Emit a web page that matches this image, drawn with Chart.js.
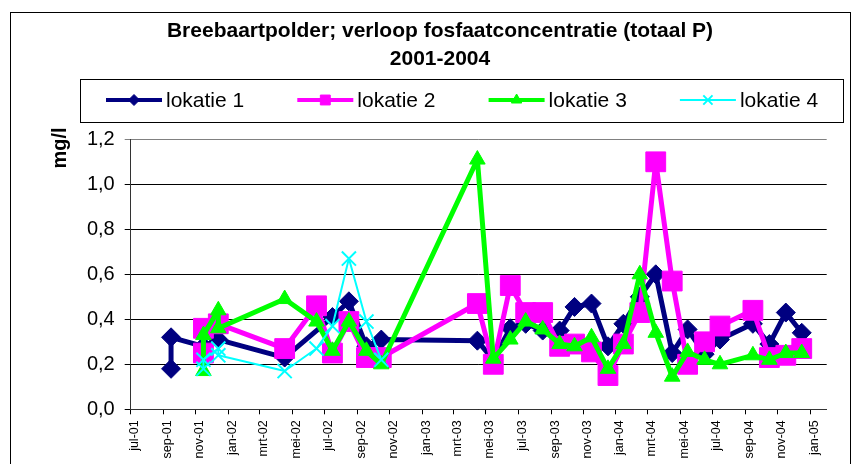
<!DOCTYPE html>
<html>
<head>
<meta charset="utf-8">
<script src="https://cdn.jsdelivr.net/npm/chart.js@4/dist/chart.umd.min.js"></script>
<style>
    html, body { margin: 0; padding: 0; background: #fff; }
    #wrap { width: 854px; height: 464px; }
</style>
</head>
<body>
<div id="wrap"><canvas id="fosfaatChart" width="854" height="464"></canvas></div>
<script>
const titleLines = ["Breebaartpolder; verloop fosfaatconcentratie (totaal P)", "2001-2004"];
const yTitle = "mg/l";

// date axis, one tick every two months
const tickDates = [
    "2001-07-01", "2001-09-01", "2001-11-01", "2002-01-01", "2002-03-01", "2002-05-01",
    "2002-07-01", "2002-09-01", "2002-11-01", "2003-01-01", "2003-03-01", "2003-05-01",
    "2003-07-01", "2003-09-01", "2003-11-01", "2004-01-01", "2004-03-01", "2004-05-01",
    "2004-07-01", "2004-09-01", "2004-11-01", "2005-01-01"
];
const tickLabels = [
    "jul-01", "sep-01", "nov-01", "jan-02", "mrt-02", "mei-02",
    "jul-02", "sep-02", "nov-02", "jan-03", "mrt-03", "mei-03",
    "jul-03", "sep-03", "nov-03", "jan-04", "mrt-04", "mei-04",
    "jul-04", "sep-04", "nov-04", "jan-05"
];
const axisStart = "2001-07-01";
const axisEnd = "2005-02-01";

const seriesNames = ["lokatie 1", "lokatie 2", "lokatie 3", "lokatie 4"];

//lokatie 1
const dates1 = [
    "2001-09-15", "2001-09-15", "2001-11-15", "2001-12-13", "2002-04-17", "2002-07-16",
    "2002-08-16", "2002-09-18", "2002-10-16", "2003-04-15", "2003-05-15", "2003-06-16",
    "2003-07-15", "2003-08-16", "2003-09-17", "2003-10-15", "2003-11-16", "2003-12-17",
    "2004-01-15", "2004-02-15", "2004-03-16", "2004-04-16", "2004-05-15", "2004-06-16",
    "2004-07-15", "2004-09-15", "2004-10-16", "2004-11-16", "2004-12-16"
];
const values1 = [
    0.18, 0.32, 0.28, 0.31, 0.23, 0.41,
    0.48, 0.28, 0.31, 0.305, 0.22, 0.36,
    0.38, 0.35, 0.35, 0.455, 0.47, 0.28,
    0.38, 0.50, 0.60, 0.25, 0.355, 0.245,
    0.31, 0.38, 0.29, 0.43, 0.34
];

//lokatie 2
const dates2 = [
    "2001-11-15", "2001-11-15", "2001-12-13", "2002-04-17", "2002-06-16", "2002-07-16",
    "2002-08-16", "2002-09-18", "2002-10-16", "2003-04-15", "2003-05-15", "2003-06-16",
    "2003-07-15", "2003-08-16", "2003-09-17", "2003-10-15", "2003-11-16", "2003-12-17",
    "2004-01-15", "2004-02-15", "2004-03-16", "2004-04-16", "2004-05-15", "2004-06-16",
    "2004-07-15", "2004-09-15", "2004-10-16", "2004-11-16", "2004-12-16"
];
const values2 = [
    0.25, 0.36, 0.38, 0.27, 0.46, 0.25,
    0.39, 0.23, 0.23, 0.47, 0.20, 0.55,
    0.43, 0.43, 0.28, 0.29, 0.255, 0.15,
    0.29, 0.43, 1.10, 0.57, 0.20, 0.30,
    0.37, 0.44, 0.23, 0.24, 0.27
];

//lokatie 3
const dates3 = [
    "2001-11-15", "2001-11-15", "2001-12-13", "2001-12-13", "2002-04-17", "2002-06-16",
    "2002-07-16", "2002-08-16", "2002-09-18", "2002-10-16", "2003-04-15", "2003-05-15",
    "2003-06-16", "2003-07-15", "2003-08-16", "2003-09-17", "2003-10-15", "2003-11-16",
    "2003-12-17", "2004-01-15", "2004-02-15", "2004-03-16", "2004-04-16", "2004-05-15",
    "2004-06-16", "2004-07-15", "2004-09-15", "2004-10-16", "2004-11-16", "2004-12-16"
];
const values3 = [
    0.17, 0.33, 0.44, 0.36, 0.49, 0.39,
    0.26, 0.39, 0.26, 0.20, 1.11, 0.225,
    0.31, 0.39, 0.355, 0.29, 0.28, 0.32,
    0.18, 0.29, 0.60, 0.34, 0.145, 0.255,
    0.22, 0.20, 0.24, 0.22, 0.25, 0.25
];

//lokatie 4
const dates4 = [
    "2001-11-15", "2001-11-15", "2001-12-13", "2001-12-13", "2002-04-17", "2002-06-16",
    "2002-07-16", "2002-08-16", "2002-09-18", "2002-10-16"
];
const values4 = [0.18, 0.22, 0.27, 0.24, 0.17, 0.27, 0.37, 0.67, 0.39, 0.22];

const FONT = "'Liberation Sans', Arial, sans-serif";

// days since start of the axis
function dayNr(s) {
    const p = s.split("-");
    const a = axisStart.split("-");
    return (Date.UTC(+p[0], +p[1] - 1, +p[2]) - Date.UTC(+a[0], +a[1] - 1, +a[2])) / 86400000;
}

function points(dates, values) {
    return dates.map((d, i) => ({ x: dayNr(d), y: values[i] }));
}

function series(i, dates, values, color, lineWidth, style, radius, pointBorder, order) {
    return {
        label: seriesNames[i],
        data: points(dates, values),
        borderColor: color,
        backgroundColor: color,
        borderWidth: lineWidth,
        borderJoinStyle: "round",
        borderCapStyle: "round",
        pointStyle: style,
        pointRadius: radius,
        pointBackgroundColor: color,
        pointBorderColor: color,
        pointBorderWidth: pointBorder,
        tension: 0,
        fill: false,
        order: order
    };
}

const legendRadius = [5.5, 7, 6, 6.5];

// white page, outer frame, title, legend box and y title
const chartDecor = {
    id: "chartDecor",
    beforeDraw(chart) {
        const c = chart.ctx;
        c.save();
        c.fillStyle = "#fff";
        c.fillRect(0, 0, chart.width, chart.height);
        c.strokeStyle = "#000";
        c.lineWidth = 1;
        c.strokeRect(10.5, 12.5, 840, 470);
        c.restore();
    },
    afterDraw(chart) {
        const c = chart.ctx;
        c.save();
        c.fillStyle = "#000";
        c.font = "bold 21px " + FONT;
        c.textAlign = "center";
        c.textBaseline = "middle";
        c.fillText(titleLines[0], 440, 31);
        c.fillText(titleLines[1], 440, 59);

        c.strokeStyle = "#000";
        c.lineWidth = 1;
        c.strokeRect(80.5, 79.5, 763, 43);

        c.font = "21px " + FONT;
        c.textAlign = "left";
        chart.data.datasets.forEach((ds, i) => {
            const x0 = 106 + i * 191.3;
            const y0 = 100;
            c.strokeStyle = ds.borderColor;
            c.lineWidth = Math.min(ds.borderWidth, 4);
            c.beginPath();
            c.moveTo(x0, y0);
            c.lineTo(x0 + 56, y0);
            c.stroke();
            c.fillStyle = ds.pointBackgroundColor;
            c.strokeStyle = ds.pointBorderColor;
            c.lineWidth = ds.pointBorderWidth;
            Chart.helpers.drawPoint(c, {
                pointStyle: ds.pointStyle,
                radius: legendRadius[i],
                borderWidth: ds.pointBorderWidth,
                rotation: 0
            }, x0 + 28, y0);
            c.fillStyle = "#000";
            c.fillText(ds.label, x0 + 60, y0 + 1);
        });

        c.translate(66, 148);
        c.rotate(-Math.PI / 2);
        c.font = "bold 20px " + FONT;
        c.textAlign = "center";
        c.textBaseline = "alphabetic";
        c.fillText(yTitle, 0, 0);
        c.restore();
    }
};

const ctx = document.getElementById("fosfaatChart");

new Chart(ctx, {
    type: "line",
    data: {
        datasets: [
            series(0, dates1, values1, "#000080", 5, "rectRot", 9.5, 1, 4),
            series(1, dates2, values2, "#FF00FF", 5, "rect", 14, 1, 3),
            series(2, dates3, values3, "#00FF00", 5, "triangle", 9, 1, 2),
            series(3, dates4, values4, "#00FFFF", 2, "crossRot", 10, 2, 1)
        ]
    },
    options: {
        responsive: false,
        animation: false,
        devicePixelRatio: 1,
        events: [],
        layout: {
            padding: { top: 139.3, right: 27.3, left: 0, bottom: 0 }
        },
        plugins: {
            legend: { display: false },
            title: { display: false },
            tooltip: { enabled: false }
        },
        scales: {
            x: {
                type: "linear",
                min: 0,
                max: dayNr(axisEnd),
                afterBuildTicks: (axis) => {
                    axis.ticks = tickDates.map((d) => ({ value: dayNr(d) }));
                },
                afterFit: (scale) => { scale.height = 54.7; },
                grid: {
                    drawOnChartArea: false,
                    drawTicks: true,
                    tickLength: 5,
                    color: "#000"
                },
                border: { color: "#333", width: 1 },
                ticks: {
                    autoSkip: false,
                    minRotation: 90,
                    maxRotation: 90,
                    padding: 6,
                    labelOffset: 4,
                    color: "#000",
                    font: { family: FONT, size: 12.5 },
                    callback: (v, i) => tickLabels[i]
                }
            },
            y: {
                min: 0,
                max: 1.2,
                afterFit: (scale) => { scale.width = 130.7; },
                grid: {
                    tickLength: 6,
                    color: (c) => (c.tick && Math.abs(c.tick.value - 1.2) < 1e-6 ? "#808080" : "#000")
                },
                border: { color: "#333", width: 1 },
                ticks: {
                    stepSize: 0.2,
                    padding: 10,
                    color: "#000",
                    font: { family: FONT, size: 20 },
                    callback: (v) => v.toFixed(1).replace(".", ",")
                }
            }
        }
    },
    plugins: [chartDecor]
});
</script>
</body>
</html>
